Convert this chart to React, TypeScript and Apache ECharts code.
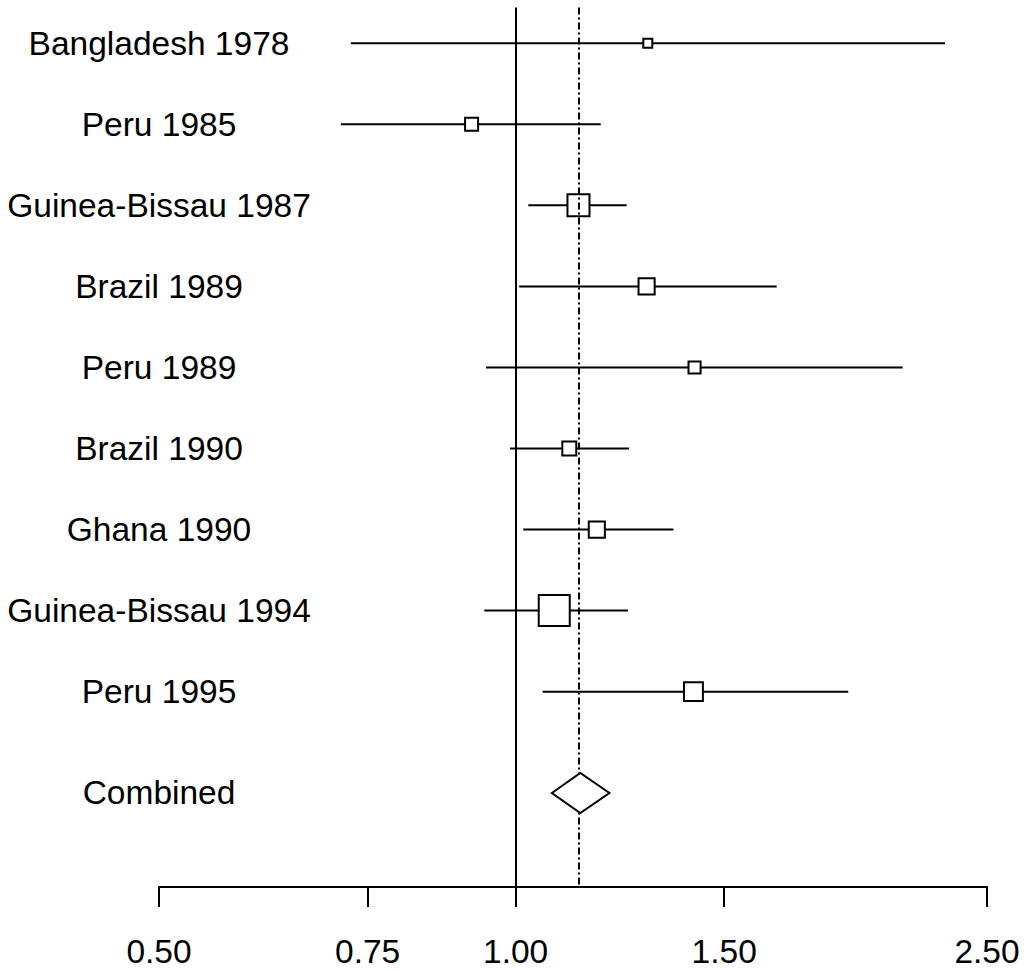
import React, { useEffect, useRef } from "react";
import * as echarts from "echarts";

// ---- Data ----
const studies = [
  "Bangladesh 1978",
  "Peru 1985",
  "Guinea-Bissau 1987",
  "Brazil 1989",
  "Peru 1989",
  "Brazil 1990",
  "Ghana 1990",
  "Guinea-Bissau 1994",
  "Peru 1995",
];
const estimates = [1.293, 0.918, 1.13, 1.29, 1.416, 1.11, 1.171, 1.078, 1.413];
const lowerCI = [0.726, 0.712, 1.025, 1.007, 0.944, 0.989, 1.015, 0.941, 1.054];
const upperCI = [2.304, 1.18, 1.241, 1.661, 2.122, 1.247, 1.359, 1.244, 1.909];
// relative study weights (box side relative to the largest box)
const relWeights = [0.29, 0.42, 0.71, 0.52, 0.39, 0.45, 0.52, 1.0, 0.61];

const combinedLabel = "Combined";
const combinedEstimate = [1.134];
const combinedLower = [1.073];
const combinedUpper = [1.2];

const nullValue = 1.0;
const xTickValues = [0.5, 0.75, 1.0, 1.5, 2.5];
const xTickLabels = ["0.50", "0.75", "1.00", "1.50", "2.50"];

// ---- Layout constants ----
const MAX_BOX = 31;
const COMBINED_GAP = 0.25;
const DIAMOND_HALF_H = 20;
const LW = 2;
const FONT = "'Liberation Sans', Arial, Helvetica, sans-serif";

export default function App() {
  const ref = useRef<HTMLDivElement>(null);

  useEffect(() => {
    document.body.style.margin = "0";
    if (!ref.current) return;
    const chart = echarts.init(ref.current, null, { renderer: "svg" });

    const combinedRow = studies.length + COMBINED_GAP;
    const rowValues = [...studies.map((_, i) => i), combinedRow];
    const rowNames = [...studies, combinedLabel];

    const studyData = studies.map((_, i) => [
      i,
      lowerCI[i],
      estimates[i],
      upperCI[i],
      relWeights[i],
    ]);
    const combinedData = combinedEstimate.map((e, i) => [
      combinedRow,
      combinedLower[i],
      e,
      combinedUpper[i],
    ]);

    const option: any = {
      animation: false,
      backgroundColor: "#ffffff",
      grid: {
        left: 159,
        right: 37,
        top: 7.6,
        bottom: 84,
        containLabel: false,
        outerBoundsMode: "none",
      },
      xAxis: {
        type: "log",
        min: 0.5,
        max: 2.5,
        position: "bottom",
        axisLine: {
          show: true,
          onZero: false,
          lineStyle: { color: "#000", width: LW },
        },
        axisTick: {
          show: true,
          length: 20,
          customValues: xTickValues,
          lineStyle: { color: "#000", width: LW },
        },
        axisLabel: {
          customValues: xTickValues,
          formatter: (v: number) => {
            const idx = xTickValues.findIndex((t) => Math.abs(t - v) < 1e-6);
            return idx >= 0 ? xTickLabels[idx] : "";
          },
          margin: 47,
          color: "#000",
          fontSize: 33.5,
          fontFamily: FONT,
        },
        splitLine: { show: false },
        minorTick: { show: false },
        minorSplitLine: { show: false },
      },
      yAxis: {
        type: "value",
        inverse: true,
        min: -0.44,
        max: 10.41,
        axisLine: { show: false },
        axisTick: { show: false },
        splitLine: { show: false },
        axisLabel: {
          customValues: rowValues,
          formatter: (v: number) => {
            const idx = rowValues.findIndex((t) => Math.abs(t - v) < 1e-6);
            return idx >= 0 ? rowNames[idx] : "";
          },
          align: "center",
          verticalAlign: "middle",
          margin: 0,
          color: "#000",
          fontSize: 33.5,
          fontFamily: FONT,
        },
      },
      series: [
        {
          type: "custom",
          name: "studies",
          z: 2,
          data: studyData,
          encode: { x: [1, 2, 3], y: 0 },
          renderItem: (params: any, api: any) => {
            const y = api.value(0);
            const lo = api.coord([api.value(1), y]);
            const est = api.coord([api.value(2), y]);
            const hi = api.coord([api.value(3), y]);
            const s = api.value(4) * MAX_BOX;
            return {
              type: "group",
              children: [
                {
                  type: "line",
                  shape: { x1: lo[0], y1: lo[1], x2: hi[0], y2: hi[1] },
                  style: { stroke: "#000", lineWidth: LW },
                },
                {
                  type: "rect",
                  shape: {
                    x: est[0] - s / 2,
                    y: est[1] - s / 2,
                    width: s,
                    height: s,
                  },
                  style: { fill: "#fff", stroke: "#000", lineWidth: LW },
                },
              ],
            };
          },
          markLine: {
            silent: true,
            symbol: ["none", "none"],
            label: { show: false },
            lineStyle: { color: "#000", width: LW, type: "solid" },
            data: [{ xAxis: nullValue }],
          },
        },
        {
          type: "custom",
          name: "combined",
          z: 5,
          data: combinedData,
          encode: { x: [1, 2, 3], y: 0 },
          renderItem: (params: any, api: any) => {
            const y = api.value(0);
            const lo = api.coord([api.value(1), y]);
            const est = api.coord([api.value(2), y]);
            const hi = api.coord([api.value(3), y]);
            return {
              type: "polygon",
              shape: {
                points: [
                  [lo[0], lo[1]],
                  [est[0], est[1] - DIAMOND_HALF_H],
                  [hi[0], hi[1]],
                  [est[0], est[1] + DIAMOND_HALF_H],
                ],
              },
              style: { fill: "#fff", stroke: "#000", lineWidth: LW },
            };
          },
          markLine: {
            silent: true,
            symbol: ["none", "none"],
            label: { show: false },
            lineStyle: { color: "#000", width: LW, type: [7, 3, 2, 3] },
            data: [{ xAxis: combinedEstimate[0] }],
          },
        },
      ],
    };

    chart.setOption(option);
    return () => {
      chart.dispose();
    };
  }, []);

  return <div ref={ref} style={{ width: 1024, height: 971 }} />;
}
